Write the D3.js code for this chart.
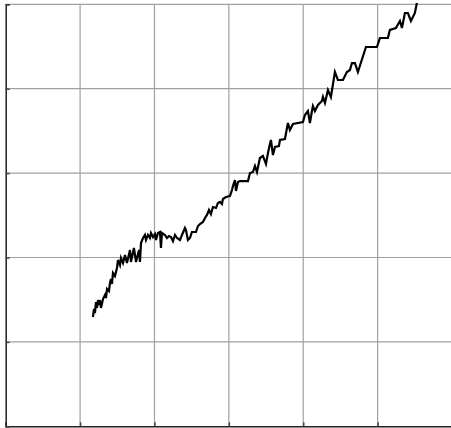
<!DOCTYPE html>
<html><head><meta charset="utf-8">
<script src="https://cdn.jsdelivr.net/npm/d3@7"></script>
<style>html,body{margin:0;padding:0;background:#fff;}svg{display:block;}</style>
</head><body>
<script>
const xTicks = [0, 10, 20, 30, 40, 50, 60];
const yTicks = [0, 10, 20, 30, 40, 50];
const xValues = [11.73,11.87,12.00,12.14,12.27,12.41,12.54,12.67,12.81,13.08,13.35,13.48,13.62,
  13.88,14.02,14.15,14.29,14.42,14.69,14.96,15.09,15.36,15.50,15.77,16.04,16.30,16.71,16.84,17.24,17.52,17.92,18.05,18.19,18.46,18.72,18.86,19.13,19.39,19.53,19.80,20.07,20.20,20.47,20.74,20.87,21.01,21.41,21.68,
  21.95,22.22,22.49,22.76,23.03,23.43,23.70,24.10,24.23,24.50,24.77,25.04,25.58,25.85,26.12,26.52,26.79,27.06,27.33,27.59,27.86,28.27,28.53,28.80,29.07,29.21,29.61,30.15,30.42,30.55,30.82,30.96,31.22,31.49,32.57,32.84,33.24,33.51,33.78,34.18,34.58,34.99,35.26,35.52,35.66,35.93,36.20,36.73,36.87,37.54,37.94,38.21,38.62,39.96,40.23,40.63,40.90,41.17,41.30,41.57,41.98,42.51,42.65,42.92,43.32,43.72,44.26,44.66,45.34,45.87,46.28,46.55,46.95,47.35,48.43,49.91,50.31,51.38,51.65,52.46,53.00,53.27,53.67,54.07,54.48,55.01,55.28];
const yValues = [12.95,13.90,13.42,14.73,14.02,14.96,14.37,14.96,14.02,15.08,15.56,15.20,16.27,
  16.03,16.98,17.45,16.86,18.16,17.81,18.76,19.70,19.11,19.94,19.35,20.30,19.35,20.89,19.47,21.13,19.47,20.89,19.47,21.72,22.31,22.67,22.07,22.67,22.31,22.90,22.43,22.78,22.07,22.90,23.02,21.13,22.90,22.67,22.31,
  22.55,22.43,21.95,22.67,22.31,22.07,22.67,23.50,23.26,22.07,22.31,23.02,23.02,23.73,23.97,24.21,24.68,25.04,25.63,25.15,25.98,25.87,26.46,26.58,26.34,26.93,27.17,27.29,28.00,28.47,29.18,27.88,28.95,29.06,29.06,30.01,30.13,30.84,30.13,31.79,32.03,31.08,32.38,33.45,33.92,32.14,33.09,33.21,33.92,34.04,35.94,35.11,35.82,36.05,36.88,37.36,35.94,37.36,37.95,37.36,38.07,38.54,39.02,38.31,39.85,39.02,41.98,41.03,41.03,41.98,42.22,43.04,43.04,41.98,44.94,44.94,46.01,46.01,46.96,47.19,48.02,47.19,48.97,48.97,48.02,48.97,50.15];

const W = 451, H = 428;
const m = {left: 5.7, top: 4.3};
const pw = 446.3, ph = 422;
const svg = d3.select("body").append("svg").attr("width", W).attr("height", H);
const g = svg.append("g").attr("transform", `translate(${m.left},${m.top})`);
const x = d3.scaleLinear().domain([0, 60]).range([0, pw]);
const y = d3.scaleLinear().domain([0, 50]).range([ph, 0]);

// grid
g.append("g").selectAll("line").data(xTicks.slice(1)).join("line")
  .attr("x1", d => x(d)).attr("x2", d => x(d)).attr("y1", 0).attr("y2", ph)
  .attr("stroke", "#a0a0a0").attr("stroke-width", 1.2);
g.append("g").selectAll("line").data(yTicks.slice(1)).join("line")
  .attr("x1", 0).attr("x2", pw).attr("y1", d => y(d)).attr("y2", d => y(d))
  .attr("stroke", "#a0a0a0").attr("stroke-width", 1.2);

// axes
const xa = g.append("g").attr("transform", `translate(0,${ph})`)
  .call(d3.axisBottom(x).tickValues(xTicks).tickSize(-4).tickFormat(""));
const ya = g.append("g")
  .call(d3.axisLeft(y).tickValues(yTicks).tickSize(-4).tickFormat(""));
[xa, ya].forEach(a => {
  a.select(".domain").attr("stroke", "#222").attr("stroke-width", 1.5);
  a.selectAll(".tick line").attr("stroke", "#444").attr("stroke-width", 1.5);
});

// line
const pts = xValues.map((v, i) => [v, yValues[i]]);
g.append("path").datum(pts)
  .attr("fill", "none").attr("stroke", "#000").attr("stroke-width", 2.2)
  .attr("stroke-linejoin", "miter")
  .attr("d", d3.line().x(d => x(d[0])).y(d => y(d[1])));
</script>
</body></html>
